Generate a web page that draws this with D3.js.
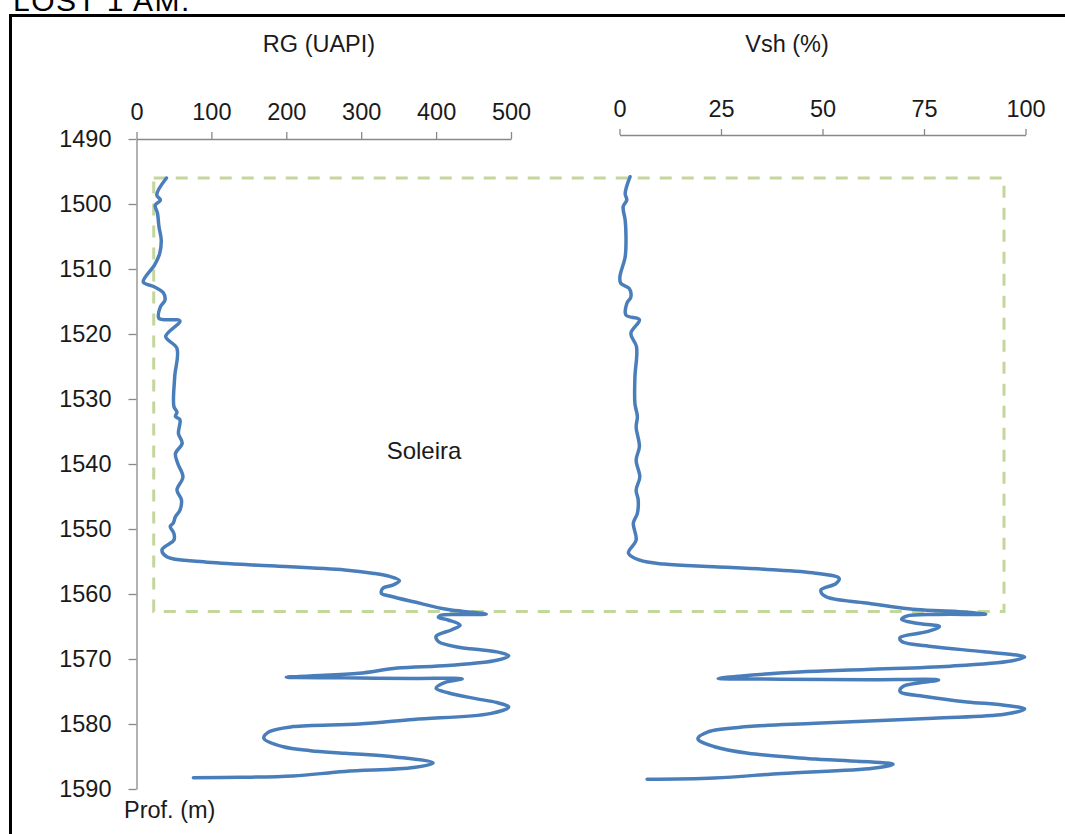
<!DOCTYPE html>
<html>
<head>
<meta charset="utf-8">
<script src="https://cdn.jsdelivr.net/npm/d3@7/dist/d3.min.js"></script>
<style>
  html, body { margin: 0; padding: 0; background: #fff; }
  svg { display: block; font-family: "Liberation Sans", Arial, sans-serif; }
  .axis path, .axis line { stroke: #898989; stroke-width: 1.3; }
  .axis text { fill: #1a1a1a; font-size: 23.5px; font-family: "Liberation Sans", Arial, sans-serif; }
</style>
</head>
<body>
<svg id="chart" width="1065" height="834"></svg>
<script>
// Gamma-ray log (RG, API units) against depth
const rgDepth = [1496.0, 1498.6, 1499.4, 1500.2, 1501.4, 1503.5, 1505.5, 1507.6, 1509.4, 1512.0,
  1512.7, 1513.7, 1514.8, 1515.8, 1517.6, 1518.0, 1520.4, 1522.2, 1526.6, 1531.2,
  1532.0, 1532.7, 1533.2, 1535.3, 1536.8, 1538.4, 1539.9, 1542.0, 1544.0, 1545.5,
  1547.1, 1548.1, 1549.1, 1549.6, 1550.7, 1551.7, 1553.2, 1554.3, 1555.0, 1555.5,
  1555.7, 1556.3, 1556.8, 1557.3, 1557.95, 1558.6, 1559.1, 1559.9, 1560.3, 1561.2,
  1562.4, 1562.8, 1563.1, 1563.15, 1563.25, 1563.6, 1564.0, 1564.8, 1565.5, 1566.5,
  1567.3, 1568.2, 1568.5, 1568.9, 1569.5, 1570.2, 1571.0, 1571.4, 1572.2, 1572.6,
  1572.8, 1572.9, 1573.0, 1573.05, 1573.6, 1574.5, 1575.2, 1576.1, 1576.7, 1577.4,
  1578.4, 1579.3, 1580.0, 1580.4, 1581.2, 1582.2, 1583.5, 1584.1, 1584.5, 1585.1,
  1586.0, 1586.7, 1587.3, 1588.0, 1588.2, 1588.25];
const rgValue = [40, 27, 32, 25, 28, 30, 33, 31, 24, 9,
  23, 36, 38, 32, 30, 58, 39, 54, 51, 50,
  54, 52, 58, 56, 61, 52, 55, 62, 54, 60,
  58, 52, 49, 45, 50, 50, 34, 41, 85, 150,
  186, 278, 315, 338, 351, 343, 329, 327, 338, 370,
  416, 448, 467, 435, 407, 403, 416, 432, 421, 400,
  403, 430, 453, 481, 497, 481, 416, 348, 297, 232,
  200, 278, 370, 435, 412, 400, 416, 453, 481, 497,
  472, 370, 297, 209, 177, 170, 196, 232, 278, 348,
  396, 370, 278, 209, 140, 76];

// Shale volume (Vsh, %) against depth
const vshDepth = [1495.8, 1498.4, 1499.4, 1500.4, 1502.5, 1505.0, 1508.1, 1511.2, 1512.2, 1513.0,
  1514.3, 1515.3, 1517.1, 1517.8, 1519.9, 1522.0, 1526.6, 1530.7, 1532.7, 1534.3,
  1537.3, 1539.4, 1542.0, 1544.0, 1545.5, 1547.6, 1549.1, 1551.7, 1553.7, 1554.8,
  1555.4, 1555.8, 1556.2, 1556.8, 1557.6, 1558.4, 1559.4, 1560.4, 1561.4, 1562.4,
  1562.7, 1563.1, 1563.15, 1563.4, 1563.9, 1564.5, 1565.0, 1565.8, 1566.7, 1567.3,
  1568.1, 1568.9, 1569.7, 1570.3, 1571.1, 1571.6, 1572.0, 1572.6, 1573.0, 1573.1,
  1573.2, 1573.25, 1574.2, 1575.0, 1575.8, 1576.6, 1577.1, 1577.7, 1578.5, 1579.1,
  1579.9, 1580.4, 1581.2, 1582.3, 1583.5, 1584.5, 1585.4, 1586.2, 1586.8, 1587.6,
  1588.3, 1588.5];
const vshValue = [2.6, 1.4, 1.8, 0.9, 1.4, 1.6, 1.4, 0.1, 0.3, 2.4,
  2.8, 1.8, 1.6, 4.9, 2.8, 4.2, 3.8, 3.8, 4.4, 4.1,
  4.9, 4.1, 5.0, 4.1, 4.6, 4.4, 3.4, 4.1, 2.2, 5.0,
  11, 23.4, 35.8, 48.3, 54.1, 53.3, 49.6, 50.8, 60.8, 73.2,
  83.1, 90.2, 78.2, 70.7, 69.5, 73.2, 78.8, 75.7, 69.1, 69.5,
  77.3, 89.8, 99.8, 96.4, 81.5, 60.8, 44.2, 30.1, 24.3, 40,
  60.8, 78.6, 69.9, 69.1, 75.7, 85.6, 94.8, 99.8, 94.8, 77.3,
  48.3, 31.7, 21.8, 19.3, 23.4, 31.7, 48.3, 67.4, 62.4, 40,
  23.4, 6.8];

// Axis ticks
const depthTicks = [1490, 1500, 1510, 1520, 1530, 1540, 1550, 1560, 1570, 1580, 1590];
const rgTicks = [0, 100, 200, 300, 400, 500];
const vshTicks = [0, 25, 50, 75, 100];

// Sill interval (Soleira) outline: depth top/base, left edge on RG scale, right edge on Vsh scale
const sillDepth = [1496, 1562.7];
const sillRgLeft = [23];
const sillVshRight = [94.7];

const svg = d3.select("#chart");

const y = d3.scaleLinear().domain([1490, 1590]).range([139, 789]);
const xRg = d3.scaleLinear().domain([0, 500]).range([136.5, 511]);
const xVsh = d3.scaleLinear().domain([0, 100]).range([619.5, 1025.5]);

// Page title (runs off the top edge) and outer frame
svg.append("text")
  .attr("x", 13).attr("y", 11)
  .attr("font-size", 30)
  .attr("letter-spacing", 1.5)
  .attr("fill", "#000")
  .text("LOST 1 AM.");

svg.append("rect")
  .attr("x", 10.5).attr("y", 15.5)
  .attr("width", 1100).attr("height", 900)
  .attr("fill", "none")
  .attr("stroke", "#000")
  .attr("stroke-width", 3);

// Depth axis
svg.append("g")
  .attr("class", "axis")
  .attr("transform", `translate(${xRg(0)},0)`)
  .call(d3.axisLeft(y).tickValues(depthTicks).tickSize(8).tickSizeOuter(0).tickPadding(17).tickFormat(d3.format("d")));

// RG axis along the top
svg.append("g")
  .attr("class", "axis")
  .attr("transform", `translate(0,${y(1490)})`)
  .call(d3.axisTop(xRg).tickValues(rgTicks).tickSize(7).tickSizeOuter(0).tickPadding(12).tickFormat(d3.format("d")));

// Vsh axis along the top
svg.append("g")
  .attr("class", "axis")
  .attr("transform", `translate(0,135)`)
  .call(d3.axisTop(xVsh).tickValues(vshTicks).tickSize(6).tickSizeOuter(0).tickPadding(12).tickFormat(d3.format("d")));

// Track titles
svg.append("text")
  .attr("x", 319).attr("y", 52)
  .attr("text-anchor", "middle").attr("font-size", 23.5).attr("fill", "#1a1a1a")
  .text("RG (UAPI)");
svg.append("text")
  .attr("x", 787).attr("y", 52)
  .attr("text-anchor", "middle").attr("font-size", 23.5).attr("fill", "#1a1a1a")
  .text("Vsh (%)");

svg.append("text")
  .attr("x", 124).attr("y", 818)
  .attr("font-size", 23.5).attr("fill", "#1a1a1a")
  .text("Prof. (m)");

// Sill interval outline
svg.append("rect")
  .attr("x", xRg(sillRgLeft[0]))
  .attr("y", y(sillDepth[0]))
  .attr("width", xVsh(sillVshRight[0]) - xRg(sillRgLeft[0]))
  .attr("height", y(sillDepth[1]) - y(sillDepth[0]))
  .attr("fill", "none")
  .attr("stroke", "#c3d69b")
  .attr("stroke-width", 3)
  .attr("stroke-dasharray", "12,10");

svg.append("text")
  .attr("x", 424).attr("y", y(1539.3))
  .attr("text-anchor", "middle").attr("font-size", 24).attr("fill", "#1a1a1a")
  .text("Soleira");

// Log curves
const rgLine = d3.line()
  .x(i => xRg(rgValue[i]))
  .y(i => y(rgDepth[i]))
  .curve(d3.curveCatmullRom.alpha(0.5));
const vshLine = d3.line()
  .x(i => xVsh(vshValue[i]))
  .y(i => y(vshDepth[i]))
  .curve(d3.curveCatmullRom.alpha(0.5));

svg.append("path")
  .attr("d", rgLine(d3.range(rgDepth.length)))
  .attr("fill", "none")
  .attr("stroke", "#4a7ebb")
  .attr("stroke-width", 3.5)
  .attr("stroke-linejoin", "round")
  .attr("stroke-linecap", "round");

svg.append("path")
  .attr("d", vshLine(d3.range(vshDepth.length)))
  .attr("fill", "none")
  .attr("stroke", "#4a7ebb")
  .attr("stroke-width", 3.5)
  .attr("stroke-linejoin", "round")
  .attr("stroke-linecap", "round");
</script>
</body>
</html>
